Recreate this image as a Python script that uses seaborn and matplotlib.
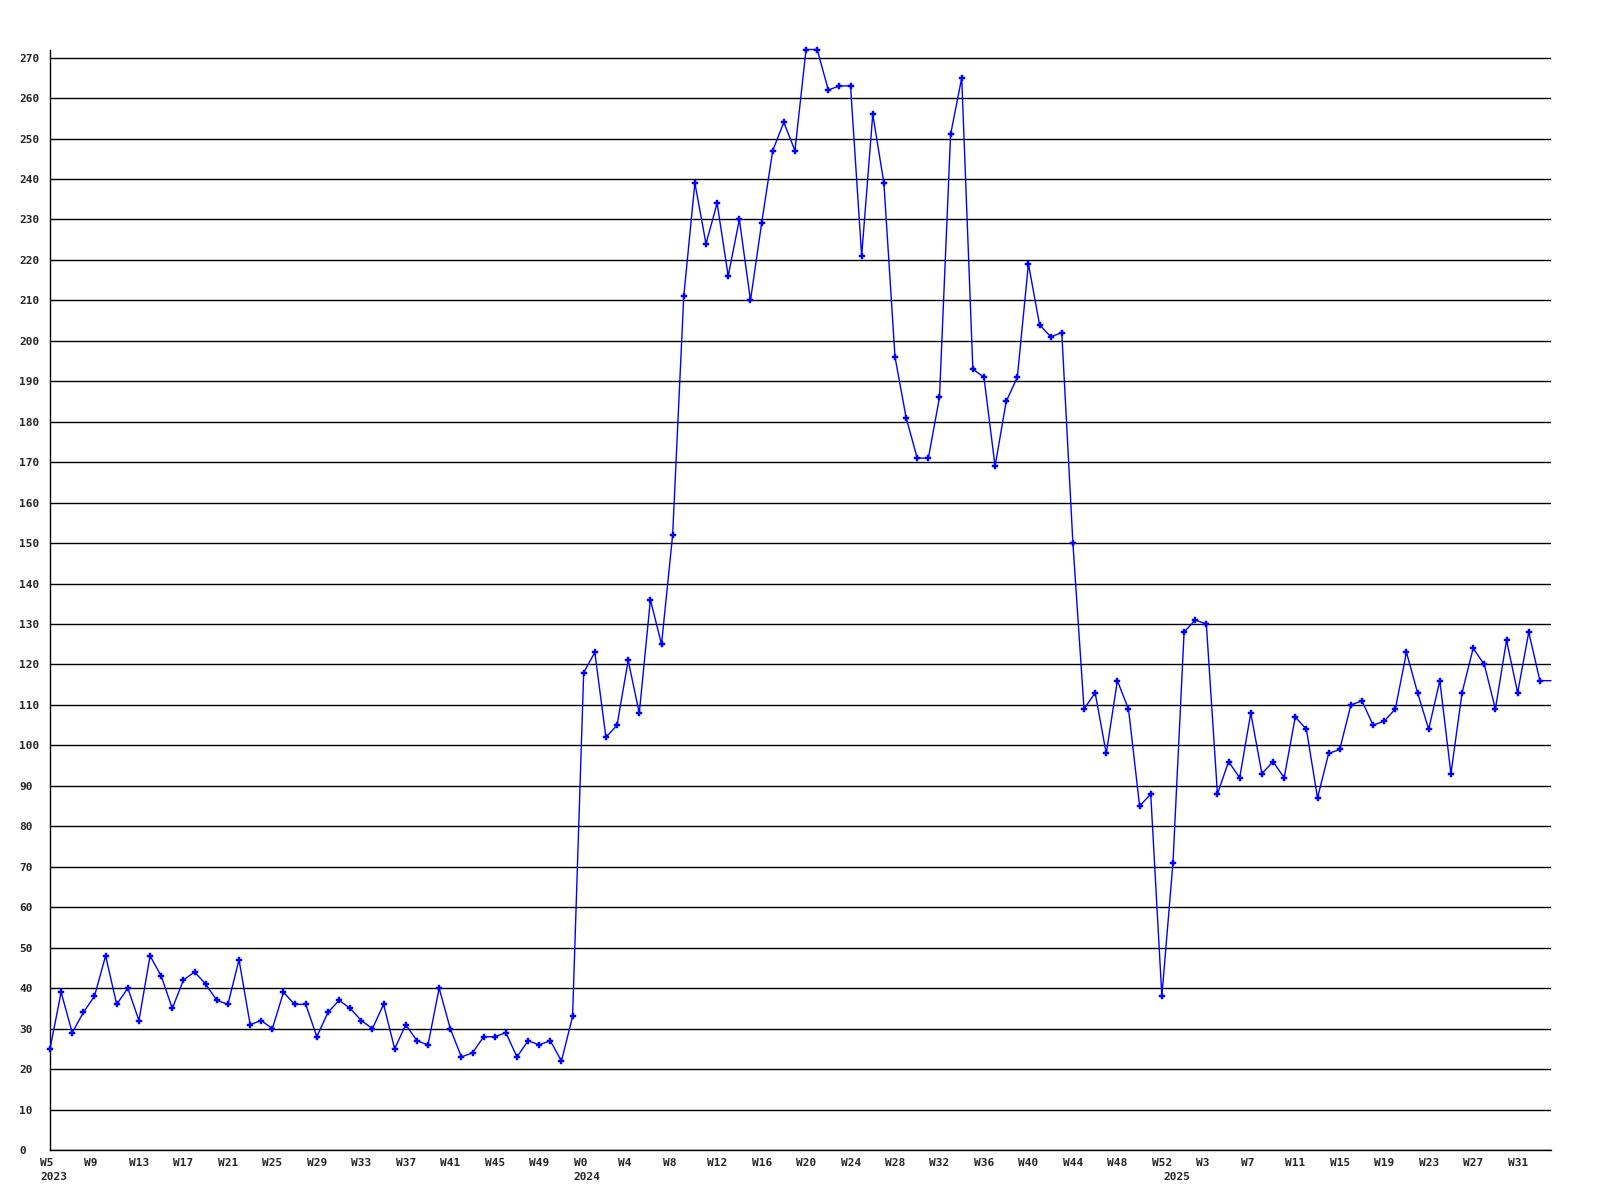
import numpy as np
import pandas as pd
import seaborn as sns
import matplotlib.pyplot as plt
from matplotlib.transforms import ScaledTranslation

# haftalik degerler
values_2023 = [25, 39, 29, 34, 38, 48, 36, 40, 32, 48, 43, 35, 42, 44, 41, 37,
               36, 47, 31, 32, 30, 39, 36, 36, 28, 34, 37, 35, 32, 30, 36, 25,
               31, 27, 26, 40, 30, 23, 24, 28, 28, 29, 23, 27, 26, 27, 22, 33]
values_2024 = [118, 123, 102, 105, 121, 108, 136, 125, 152, 211, 239, 224, 234,
               216, 230, 210, 229, 247, 254, 247, 272, 272, 262, 263, 263, 221,
               256, 239, 196, 181, 171, 171, 186, 251, 265, 193, 191, 169, 185,
               191, 219, 204, 201, 202, 150, 109, 113, 98, 116, 109, 85, 88, 38]
values_2025 = [71, 128, 131, 130, 88, 96, 92, 108, 93, 96, 92, 107, 104, 87, 98,
               99, 110, 111, 105, 106, 109, 123, 113, 104, 116, 93, 113, 124, 120,
               109, 126, 113, 128, 116, 116]

weeks_2023 = list(range(5, 53))
weeks_2024 = list(range(0, 53))
weeks_2025 = list(range(0, 35))
years = ["2023", "2024", "2025"]
y_ticks = list(range(0, 271, 10))

df = pd.DataFrame({
    "year": [years[0]] * len(values_2023) + [years[1]] * len(values_2024) + [years[2]] * len(values_2025),
    "week": weeks_2023 + weeks_2024 + weeks_2025,
    "value": values_2023 + values_2024 + values_2025,
})
df["idx"] = np.arange(len(df))

sns.set_style("white")
plt.rcParams["font.family"] = ["DejaVu Sans Mono"]
plt.rcParams["font.weight"] = "bold"

fig = plt.figure(figsize=(16, 12), dpi=100)
ax = fig.add_axes([50 / 1600, 50 / 1200, 1501 / 1600, 1100.5 / 1200])

for v in y_ticks:
    ax.axhline(v, color="black", lw=1.0, zorder=1)

# cizgi + isaretler (son nokta isaretsiz)
sns.lineplot(data=df, x="idx", y="value", ax=ax, color="#0000FF", lw=1.0,
             marker="P", markersize=5, markeredgewidth=0.3, markeredgecolor="#0000FF",
             zorder=3, clip_on=False,
             markevery=list(range(len(df) - 1)))

ax.set_xlim(0, len(df) - 1)
ax.set_ylim(0, 272)
ax.set_xlabel("")
ax.set_ylabel("")

# y ekseni etiketleri
ax.set_yticks(y_ticks)
ax.set_yticklabels([str(v) for v in y_ticks], fontsize=8, fontweight="bold")
ax.tick_params(axis="y", length=0, pad=22)
for lab in ax.get_yticklabels():
    lab.set_horizontalalignment("left")

# x ekseni: her 4 noktada bir hafta etiketi
tick_idx = df["idx"].values[::4]
ax.set_xticks(tick_idx)
ax.set_xticklabels(["W%d" % w for w in df["week"].values[::4]], fontsize=8, fontweight="bold")
ax.tick_params(axis="x", length=0, pad=5.5)
shift = ScaledTranslation(-10 / 100, 0, fig.dpi_scale_trans)
for lab in ax.get_xticklabels():
    lab.set_horizontalalignment("left")
    lab.set_transform(lab.get_transform() + shift)

# yil etiketleri
for y in years:
    first = df.loc[df["year"] == y, "idx"].iloc[0]
    ax.annotate(y, xy=(first, 0), xycoords=("data", "axes fraction"),
                xytext=(-10, -22), textcoords="offset pixels",
                ha="left", va="top", fontsize=8, fontweight="bold")

for s in ["top", "right"]:
    ax.spines[s].set_visible(False)
ax.spines["left"].set_color("black")
ax.spines["bottom"].set_color("black")
ax.spines["left"].set_linewidth(1.0)
ax.spines["bottom"].set_linewidth(1.0)

fig.savefig("out.png", dpi=100, facecolor="white")
